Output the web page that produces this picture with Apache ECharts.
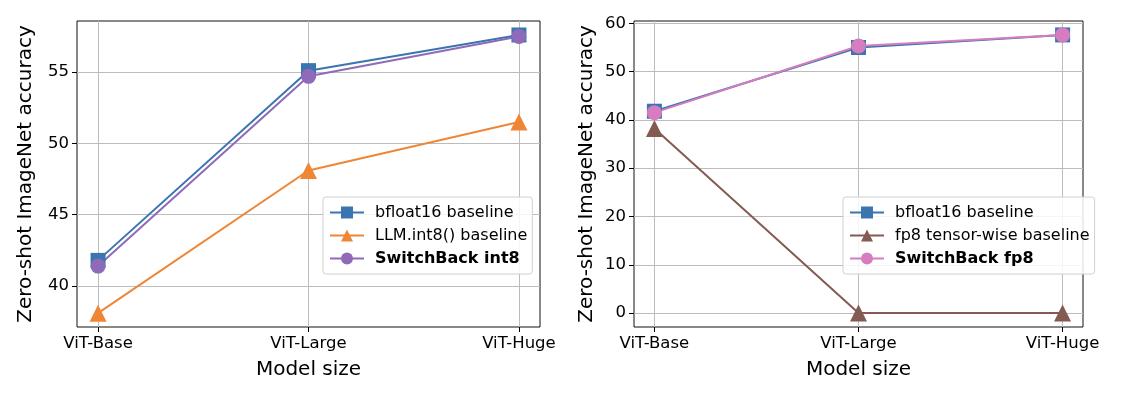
<!DOCTYPE html>
<html>
<head>
<meta charset="utf-8">
<script src="https://cdn.jsdelivr.net/npm/echarts@6/dist/echarts.min.js"></script>
<style>html,body{margin:0;padding:0;background:#fff}#c{width:1128px;height:396px}</style>
</head>
<body>
<div id="c"></div>
<script>
const categories = ['ViT-Base', 'ViT-Large', 'ViT-Huge'];
const leftTicks = [40, 45, 50, 55];
const rightTicks = [0, 10, 20, 30, 40, 50, 60];
// left panel
const bf16Left = [41.8, 55.1, 57.6];
const llmInt8 = [38.1, 48.1, 51.5];
const switchInt8 = [41.4, 54.7, 57.5];
// right panel
const bf16Right = [41.8, 55.0, 57.6];
const fp8Tensor = [38.2, 0, 0];
const switchFp8 = [41.5, 55.3, 57.6];

const FONT = 'DejaVu Sans';
const C = {blue:'#3a75b0', orange:'#ef8636', purple:'#8e6ab9', brown:'#845b53', pink:'#d57dbf'};

function pts(arr){ return arr.map((v,i)=>[i,v]); }
function xAxis(gi){
  return {
    type:'value', gridIndex:gi, min:-0.1, max:2.1,
    name:'Model size', nameLocation:'middle', nameGap:33,
    nameTextStyle:{fontFamily:FONT, fontSize:20, color:'#000'},
    axisLine:{show:false, onZero:false},
    axisTick:{show:true, customValues:[0,1,2], length:5, lineStyle:{color:'#000'}},
    axisLabel:{customValues:[0,1,2], formatter:v=>categories[Math.round(v)], fontFamily:FONT, fontSize:16.5, color:'#000', margin:8},
    splitLine:{show:true, lineStyle:{color:'#bcbcbc', width:1}}
  };
}
function yAxis(gi, min, max, ticks, gap){
  return {
    type:'value', gridIndex:gi, min:min, max:max, position:'left',
    name:'Zero-shot ImageNet accuracy', nameLocation:'middle', nameRotate:90, nameGap:gap,
    nameTextStyle:{fontFamily:FONT, fontSize:20, color:'#000'},
    axisLine:{show:false, onZero:false},
    axisTick:{show:true, customValues:ticks, length:5, lineStyle:{color:'#000'}},
    axisLabel:{customValues:ticks, fontFamily:FONT, fontSize:16.5, color:'#000', margin:8},
    splitLine:{show:true, lineStyle:{color:'#bcbcbc', width:1}}
  };
}
function line(name, data, color, symbol, size, gi){
  return {
    type:'line', name:name, xAxisIndex:gi, yAxisIndex:gi, data:pts(data),
    symbol:symbol, symbolSize:size, showSymbol:true,
    lineStyle:{color:color, width:2}, itemStyle:{color:color, borderWidth:0},
    emphasis:{disabled:true}, animation:false, z:3
  };
}
function legend(left, names){
  return {
    orient:'vertical', left:left, top:197, itemGap:6, itemWidth:34, itemHeight:15,
    padding:[7,5,7,6], borderColor:'#d0d0d0', borderWidth:1, borderRadius:3,
    backgroundColor:'rgba(255,255,255,0.85)',
    textStyle:{fontFamily:FONT, fontSize:16, color:'#000', padding:[0,0,0,6], lineHeight:17},
    data:names.map((n,i)=> i===2 ? {name:n, textStyle:{fontWeight:'bold'}} : {name:n}),
    selectedMode:false
  };
}

const chart = echarts.init(document.getElementById('c'), null, {renderer:'canvas'});
chart.setOption({
  animation:false,
  backgroundColor:'#fff',
  grid:[
    {left:77, top:21, width:463, height:306, show:true, borderColor:'#111', borderWidth:1, backgroundColor:'transparent'},
    {left:634, top:21, width:449, height:306, show:true, borderColor:'#111', borderWidth:1, backgroundColor:'transparent'}
  ],
  xAxis:[xAxis(0), xAxis(1)],
  yAxis:[yAxis(0, 37.13, 58.58, leftTicks, 41), yAxis(1, -2.88, 60.48, rightTicks, 37)],
  legend:[
    legend(323, ['bfloat16 baseline', 'LLM.int8() baseline', 'SwitchBack int8']),
    legend(843, ['bfloat16 baseline', 'fp8 tensor-wise baseline', 'SwitchBack fp8'])
  ],
  series:[
    line('bfloat16 baseline', bf16Left, C.blue, 'rect', 15, 0),
    line('LLM.int8() baseline', llmInt8, C.orange, 'triangle', 17, 0),
    line('SwitchBack int8', switchInt8, C.purple, 'circle', 15, 0),
    line('bfloat16 baseline', bf16Right, C.blue, 'rect', 15, 1),
    line('fp8 tensor-wise baseline', fp8Tensor, C.brown, 'triangle', 17, 1),
    line('SwitchBack fp8', switchFp8, C.pink, 'circle', 15, 1)
  ]
});
</script>
</body>
</html>
